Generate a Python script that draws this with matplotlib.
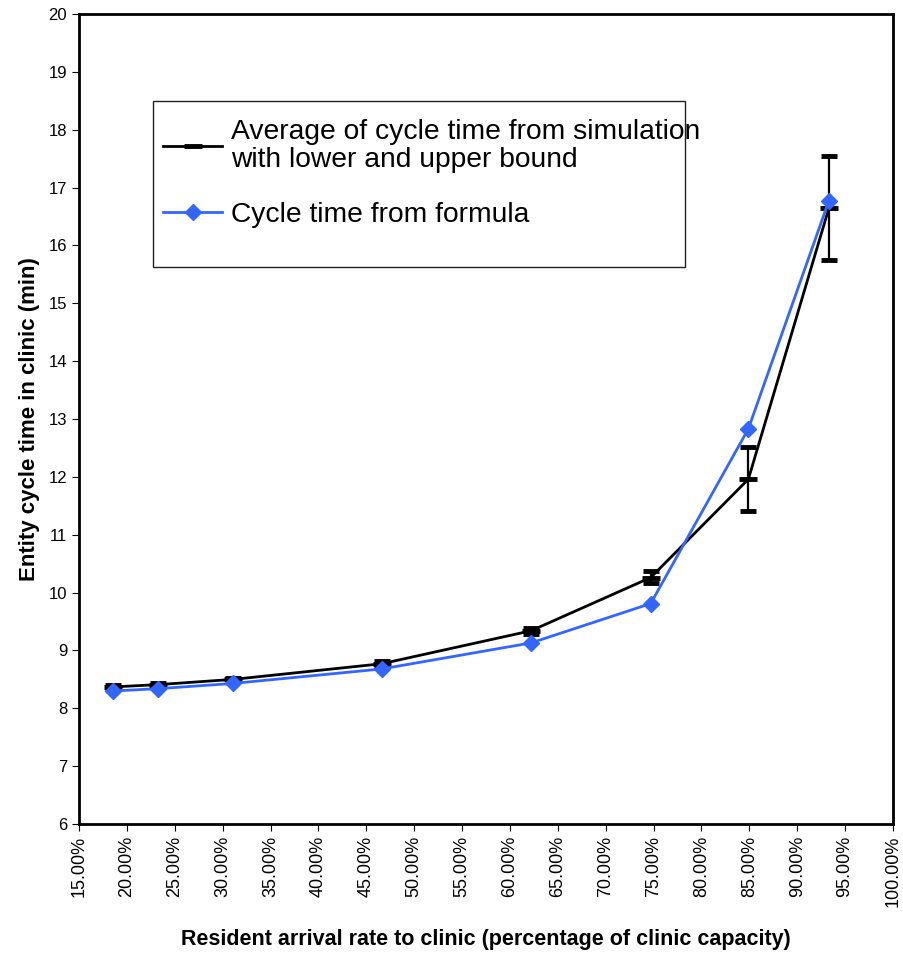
import numpy as np
import matplotlib
matplotlib.use("Agg")
import matplotlib.pyplot as plt
from matplotlib.ticker import PercentFormatter
from matplotlib.lines import Line2D
from matplotlib.patches import Rectangle

# arrival rate (% of clinic capacity)
arrival = [18.6, 23.3, 31.1, 46.6, 62.2, 74.7, 84.9, 93.3]
sim_avg = [8.37, 8.41, 8.50, 8.77, 9.34, 10.26, 11.96, 16.64]
sim_low = [8.34, 8.38, 8.47, 8.73, 9.29, 10.16, 11.41, 15.74]
sim_high = [8.40, 8.44, 8.53, 8.81, 9.39, 10.37, 12.51, 17.54]
formula = [8.30, 8.34, 8.43, 8.68, 9.13, 9.81, 12.83, 16.77]

plt.rcParams['font.family'] = ['Liberation Sans', 'DejaVu Sans']

sim_avg = np.array(sim_avg)
err = [sim_avg - np.array(sim_low), np.array(sim_high) - sim_avg]

fig = plt.figure(figsize=(9.04, 9.63), dpi=100)
ax = fig.add_axes([0.0874, 0.1443, 0.9004, 0.8412])

ax.errorbar(arrival, sim_avg, yerr=err, color='black', lw=2, marker='_',
            ms=13, mew=3.5, capsize=5.5, elinewidth=1.6, capthick=1.6, zorder=2)
ax.plot(arrival, formula, color='#3366ff', lw=2, marker='D', ms=8, zorder=3)

ax.set_xlim(15, 100)
ax.set_ylim(6, 20)
ax.set_xticks(np.arange(15, 101, 5))
ax.set_yticks(np.arange(6, 21, 1))
ax.xaxis.set_major_formatter(PercentFormatter(decimals=2))
ax.tick_params(axis='x', labelrotation=90, labelsize=13, direction='out', length=5)
ax.tick_params(axis='y', labelsize=12, direction='out', length=5)
for s in ax.spines.values():
    s.set_linewidth(2)

ax.set_xlabel('Resident arrival rate to clinic (percentage of clinic capacity)',
              fontsize=15.5, fontweight='bold', labelpad=16)
ax.set_ylabel('Entity cycle time in clinic (min)', fontsize=16, fontweight='bold',
              labelpad=6)

# legend box
ax.add_patch(Rectangle((0.0909, 0.6877), 0.6536, 0.2049, transform=ax.transAxes,
                       fill=False, edgecolor='#222222', lw=1, zorder=5))
handles = [Line2D([], [], color='black', lw=2, marker='_', ms=13, mew=3.5),
           Line2D([], [], color='#3366ff', lw=2, marker='D', ms=8)]
labels = ['Average of cycle time from simulation\nwith lower and upper bound',
          'Cycle time from formula']
leg = ax.legend(handles, labels, loc='upper left', bbox_to_anchor=(0.1032, 0.8704),
                fontsize=20.3, frameon=False, handlelength=2.1, borderpad=0,
                borderaxespad=0, labelspacing=1.05, handletextpad=0.3)
for t in leg.get_texts():
    t.set_linespacing(1.08)

fig.savefig('out.png', dpi=100)
